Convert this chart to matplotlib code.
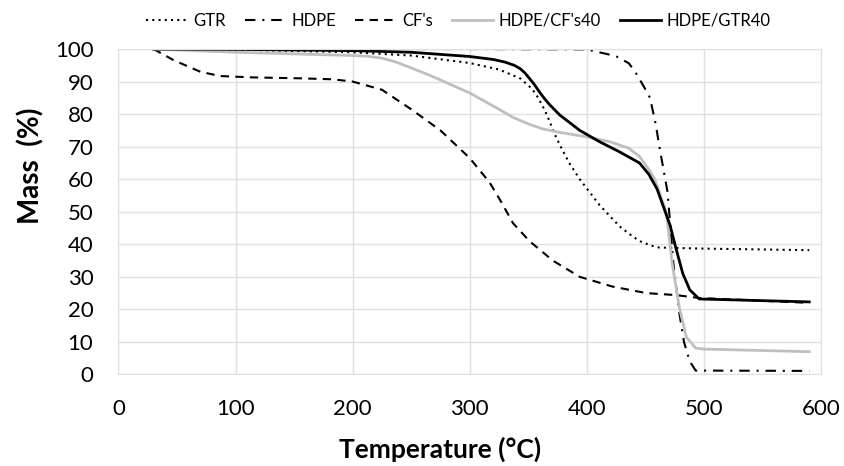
import numpy as np
import matplotlib
matplotlib.use("Agg")
import matplotlib.pyplot as plt

plt.rcParams['font.family'] = ['Lato', 'DejaVu Sans']

# datos (temperatura en C, masa en %)
gtr_t = [30, 100, 200, 250, 300, 325, 343, 351, 356, 360, 364, 368, 372, 377, 385, 394, 411, 428, 437, 445, 455, 462, 496, 590]
gtr_m = [100, 99.8, 99.0, 98.0, 95.7, 93.7, 91.0, 88.5, 86.5, 84.0, 81.3, 78.0, 74.3, 70.5, 65.0, 60.0, 52.0, 45.5, 43.0, 41.0, 39.6, 39.0, 38.7, 38.2]

hdpe_t = [30, 100, 200, 300, 400, 425, 436, 442, 449, 454, 459, 462, 469, 474, 479, 483, 488, 493, 590]
hdpe_m = [100, 100, 100, 100, 99.9, 97.8, 95.6, 92.6, 88.3, 85.0, 76.7, 70.0, 56.0, 34.0, 19.0, 10.0, 4.0, 1.2, 1.1]

cf_t = [30, 47, 70, 87, 113, 155, 183, 200, 225, 250, 275, 300, 317, 326, 337, 351, 371, 394, 422, 451, 476, 496, 590]
cf_m = [100, 96.6, 93.0, 91.7, 91.3, 91.0, 90.7, 90.0, 87.5, 81.5, 75.0, 66.5, 59.0, 53.6, 46.5, 41.0, 35.0, 30.0, 27.0, 25.0, 24.4, 23.5, 22.0]

hcf_t = [30, 100, 200, 212, 225, 237, 250, 262, 275, 300, 325, 337, 350, 362, 375, 400, 420, 436, 445, 453, 458, 462, 468, 473, 479, 485, 493, 500, 590]
hcf_m = [100, 99.0, 98.0, 97.8, 97.2, 96.0, 94.2, 92.5, 90.5, 86.5, 81.5, 79.0, 77.0, 75.5, 74.5, 73.0, 71.5, 69.5, 67.0, 63.0, 60.0, 56.0, 49.6, 34.0, 20.7, 11.5, 8.1, 7.8, 7.0]

hgtr_t = [30, 100, 200, 250, 300, 320, 330, 338, 343, 347, 351, 355, 360, 364, 368, 377, 394, 411, 428, 445, 453, 460, 466, 471, 476, 482, 488, 496, 590]
hgtr_m = [100, 99.9, 99.5, 99.0, 97.7, 96.8, 96.0, 95.0, 94.0, 92.7, 91.0, 89.2, 86.6, 84.7, 83.0, 79.7, 75.0, 71.5, 68.4, 65.0, 61.5, 57.0, 51.0, 46.0, 39.0, 31.0, 26.0, 23.2, 22.3]

xticks = [0, 100, 200, 300, 400, 500, 600]
yticks = [0, 10, 20, 30, 40, 50, 60, 70, 80, 90, 100]

fig = plt.figure(figsize=(8.44, 4.66), dpi=100)
ax = fig.add_axes([0.1403, 0.1964, 0.8324, 0.6984])

ax.plot(gtr_t, gtr_m, color='black', lw=1.5, ls=(0, (1, 2)), label='GTR')
ax.plot(hdpe_t, hdpe_m, color='black', lw=1.5, ls=(0, (5, 3.3, 1, 3.3)), label='HDPE')
ax.plot(cf_t, cf_m, color='black', lw=1.5, ls=(0, (4, 3)), label="CF's")
ax.plot(hcf_t, hcf_m, color='#bfbfbf', lw=2, label="HDPE/CF's40")
ax.plot(hgtr_t, hgtr_m, color='black', lw=2, label='HDPE/GTR40')

ax.set_xlim(0, 600)
ax.set_ylim(0, 100)
ax.set_xticks(xticks)
ax.set_yticks(yticks)
ax.tick_params(length=0, labelsize=16, colors='black')
ax.tick_params(axis='y', pad=18)
ax.tick_params(axis='x', pad=18)
ax.grid(True, color='#dce0e8', lw=1)
ax.set_axisbelow(True)
for s in ax.spines.values():
    s.set_color('#dce0e8')

fig.text(0.521, 0.036, 'Temperature (°C)', ha='center', va='center', fontsize=19, fontweight='bold')
fig.text(0.036, 0.644, 'Mass  (%)', ha='center', va='center', rotation=90, fontsize=20, fontweight='bold')

ax.legend(ncol=5, frameon=False, loc='center', bbox_to_anchor=(0.543, 0.955),
          bbox_transform=fig.transFigure, fontsize=12, handlelength=2.5,
          handletextpad=0.3, columnspacing=1.15)

fig.savefig('out.png', dpi=100)
